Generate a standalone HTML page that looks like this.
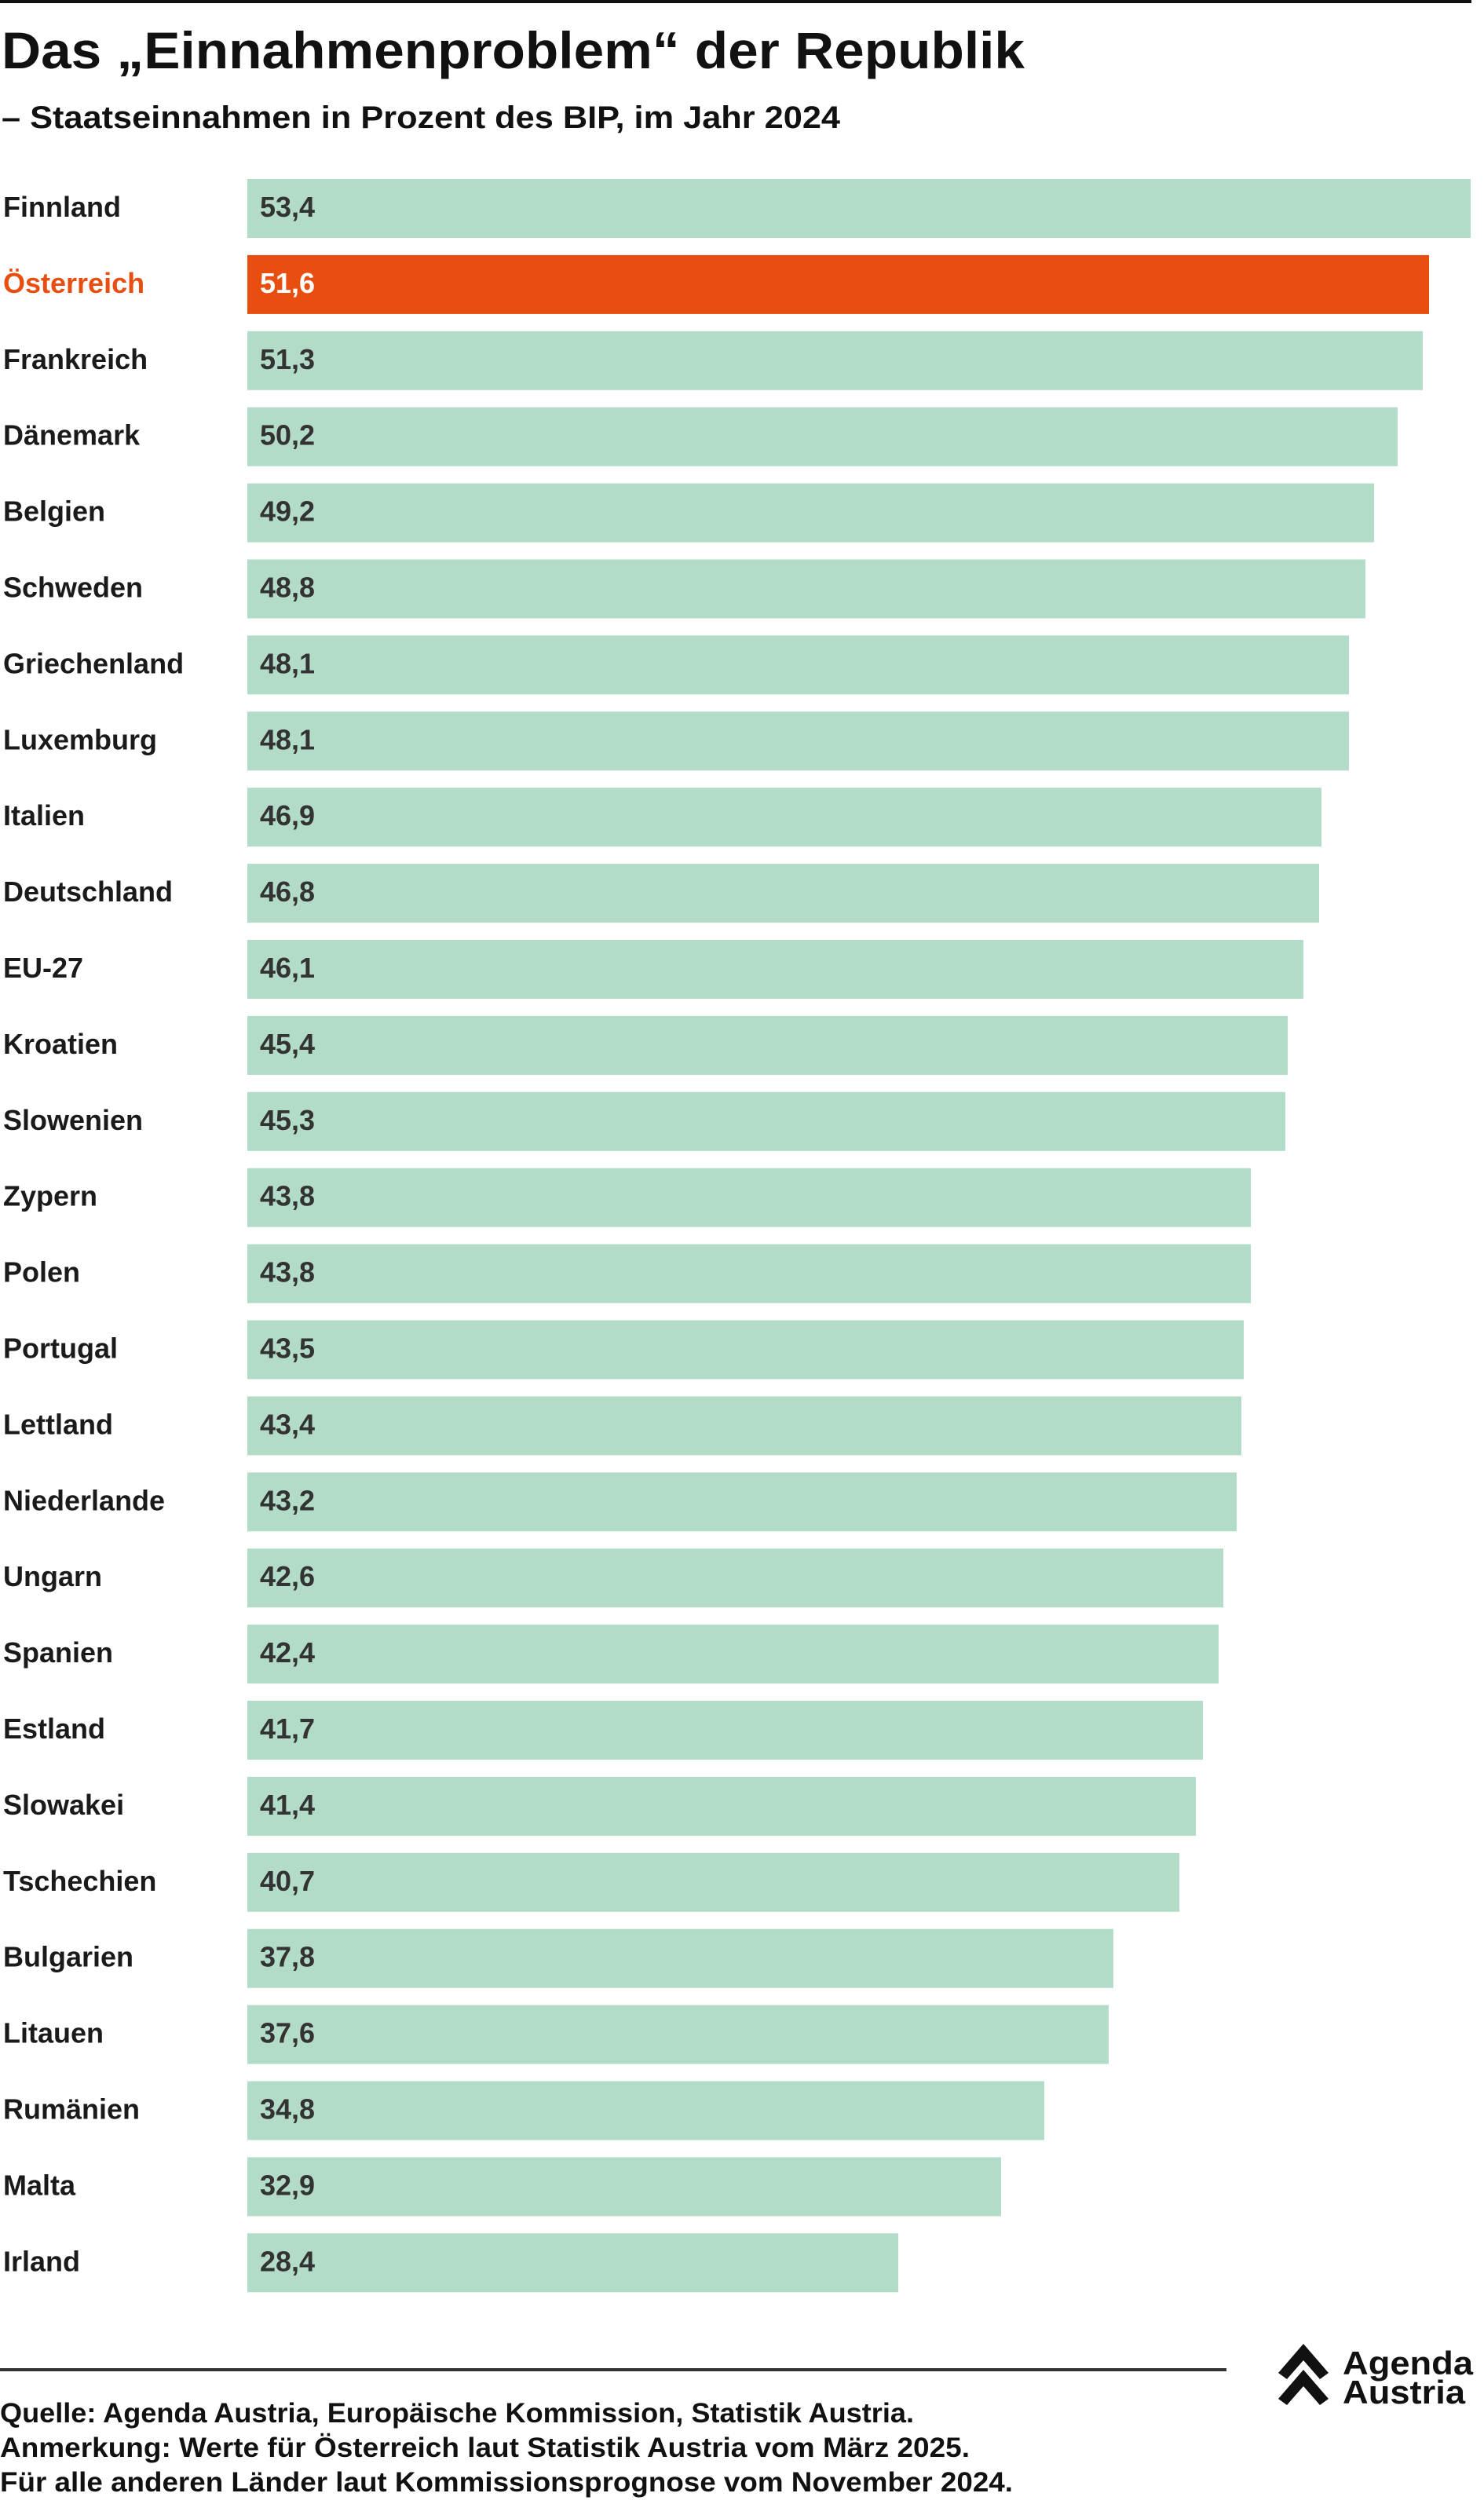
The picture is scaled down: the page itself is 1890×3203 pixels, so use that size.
<!DOCTYPE html>
<html><head><meta charset="utf-8"><style>
html,body{margin:0;padding:0;background:#fff;}
svg{display:block;}
text{font-family:"Liberation Sans",sans-serif;}
</style></head><body>
<svg width="1890" height="3203" viewBox="0 0 1890 3203" xmlns="http://www.w3.org/2000/svg">
<rect x="0" y="0" width="1890" height="3203" fill="#fff"/>
<rect x="0" y="0" width="1874" height="4" fill="#111"/>
<text x="2" y="87" font-size="66" font-weight="bold" fill="#111" textLength="1303" lengthAdjust="spacingAndGlyphs">Das „Einnahmenproblem“ der Republik</text>
<text x="2" y="163" font-size="40" font-weight="bold" fill="#111" textLength="1068" lengthAdjust="spacingAndGlyphs">– Staatseinnahmen in Prozent des BIP, im Jahr 2024</text>
<g font-size="36" fill="#1a1a1a" font-weight="bold">
<rect x="315" y="228.0" width="1558" height="75" fill="#b3dcc8"/><text x="4" y="276.0">Finnland</text><text x="331" y="276.0" fill="#333">53,4</text>
<rect x="315" y="324.9" width="1505" height="75" fill="#e84e10"/><text x="4" y="372.9" fill="#e84e10">Österreich</text><text x="331" y="372.9" fill="#fff">51,6</text>
<rect x="315" y="421.8" width="1497" height="75" fill="#b3dcc8"/><text x="4" y="469.8">Frankreich</text><text x="331" y="469.8" fill="#333">51,3</text>
<rect x="315" y="518.7" width="1465" height="75" fill="#b3dcc8"/><text x="4" y="566.7">Dänemark</text><text x="331" y="566.7" fill="#333">50,2</text>
<rect x="315" y="615.6" width="1435" height="75" fill="#b3dcc8"/><text x="4" y="663.6">Belgien</text><text x="331" y="663.6" fill="#333">49,2</text>
<rect x="315" y="712.5" width="1424" height="75" fill="#b3dcc8"/><text x="4" y="760.5">Schweden</text><text x="331" y="760.5" fill="#333">48,8</text>
<rect x="315" y="809.4" width="1403" height="75" fill="#b3dcc8"/><text x="4" y="857.4">Griechenland</text><text x="331" y="857.4" fill="#333">48,1</text>
<rect x="315" y="906.3" width="1403" height="75" fill="#b3dcc8"/><text x="4" y="954.3">Luxemburg</text><text x="331" y="954.3" fill="#333">48,1</text>
<rect x="315" y="1003.2" width="1368" height="75" fill="#b3dcc8"/><text x="4" y="1051.2">Italien</text><text x="331" y="1051.2" fill="#333">46,9</text>
<rect x="315" y="1100.1" width="1365" height="75" fill="#b3dcc8"/><text x="4" y="1148.1">Deutschland</text><text x="331" y="1148.1" fill="#333">46,8</text>
<rect x="315" y="1197.0" width="1345" height="75" fill="#b3dcc8"/><text x="4" y="1245.0">EU-27</text><text x="331" y="1245.0" fill="#333">46,1</text>
<rect x="315" y="1293.9" width="1325" height="75" fill="#b3dcc8"/><text x="4" y="1341.9">Kroatien</text><text x="331" y="1341.9" fill="#333">45,4</text>
<rect x="315" y="1390.8" width="1322" height="75" fill="#b3dcc8"/><text x="4" y="1438.8">Slowenien</text><text x="331" y="1438.8" fill="#333">45,3</text>
<rect x="315" y="1487.7" width="1278" height="75" fill="#b3dcc8"/><text x="4" y="1535.7">Zypern</text><text x="331" y="1535.7" fill="#333">43,8</text>
<rect x="315" y="1584.6" width="1278" height="75" fill="#b3dcc8"/><text x="4" y="1632.6">Polen</text><text x="331" y="1632.6" fill="#333">43,8</text>
<rect x="315" y="1681.5" width="1269" height="75" fill="#b3dcc8"/><text x="4" y="1729.5">Portugal</text><text x="331" y="1729.5" fill="#333">43,5</text>
<rect x="315" y="1778.4" width="1266" height="75" fill="#b3dcc8"/><text x="4" y="1826.4">Lettland</text><text x="331" y="1826.4" fill="#333">43,4</text>
<rect x="315" y="1875.3" width="1260" height="75" fill="#b3dcc8"/><text x="4" y="1923.3">Niederlande</text><text x="331" y="1923.3" fill="#333">43,2</text>
<rect x="315" y="1972.2" width="1243" height="75" fill="#b3dcc8"/><text x="4" y="2020.2">Ungarn</text><text x="331" y="2020.2" fill="#333">42,6</text>
<rect x="315" y="2069.1" width="1237" height="75" fill="#b3dcc8"/><text x="4" y="2117.1">Spanien</text><text x="331" y="2117.1" fill="#333">42,4</text>
<rect x="315" y="2166.0" width="1217" height="75" fill="#b3dcc8"/><text x="4" y="2214.0">Estland</text><text x="331" y="2214.0" fill="#333">41,7</text>
<rect x="315" y="2262.9" width="1208" height="75" fill="#b3dcc8"/><text x="4" y="2310.9">Slowakei</text><text x="331" y="2310.9" fill="#333">41,4</text>
<rect x="315" y="2359.8" width="1187" height="75" fill="#b3dcc8"/><text x="4" y="2407.8">Tschechien</text><text x="331" y="2407.8" fill="#333">40,7</text>
<rect x="315" y="2456.7" width="1103" height="75" fill="#b3dcc8"/><text x="4" y="2504.7">Bulgarien</text><text x="331" y="2504.7" fill="#333">37,8</text>
<rect x="315" y="2553.6" width="1097" height="75" fill="#b3dcc8"/><text x="4" y="2601.6">Litauen</text><text x="331" y="2601.6" fill="#333">37,6</text>
<rect x="315" y="2650.5" width="1015" height="75" fill="#b3dcc8"/><text x="4" y="2698.5">Rumänien</text><text x="331" y="2698.5" fill="#333">34,8</text>
<rect x="315" y="2747.4" width="960" height="75" fill="#b3dcc8"/><text x="4" y="2795.4">Malta</text><text x="331" y="2795.4" fill="#333">32,9</text>
<rect x="315" y="2844.3" width="829" height="75" fill="#b3dcc8"/><text x="4" y="2892.3">Irland</text><text x="331" y="2892.3" fill="#333">28,4</text>
</g>
<rect x="0" y="3016" width="1562" height="4" fill="#333"/>
<g font-size="35" fill="#111" font-weight="bold">
<text x="0" y="3085" textLength="1164" lengthAdjust="spacingAndGlyphs">Quelle: Agenda Austria, Europäische Kommission, Statistik Austria.</text>
<text x="0" y="3129" textLength="1235" lengthAdjust="spacingAndGlyphs">Anmerkung: Werte für Österreich laut Statistik Austria vom März 2025.</text>
<text x="0" y="3173" textLength="1290" lengthAdjust="spacingAndGlyphs">Für alle anderen Länder laut Kommissionsprognose vom November 2024.</text>
</g>
<g fill="#111">
<path d="M1628 3022 L1660 2985 L1692 3022 L1681 3030 L1660 3006 L1639 3030 Z"/>
<path d="M1628 3055 L1660 3018 L1692 3055 L1681 3063 L1660 3039 L1639 3063 Z"/>
<text x="1710" y="3024" font-size="42" font-weight="bold" textLength="166" lengthAdjust="spacingAndGlyphs">Agenda</text>
<text x="1710" y="3061" font-size="42" font-weight="bold" textLength="156" lengthAdjust="spacingAndGlyphs">Austria</text>
</g>
</svg>
</body></html>
